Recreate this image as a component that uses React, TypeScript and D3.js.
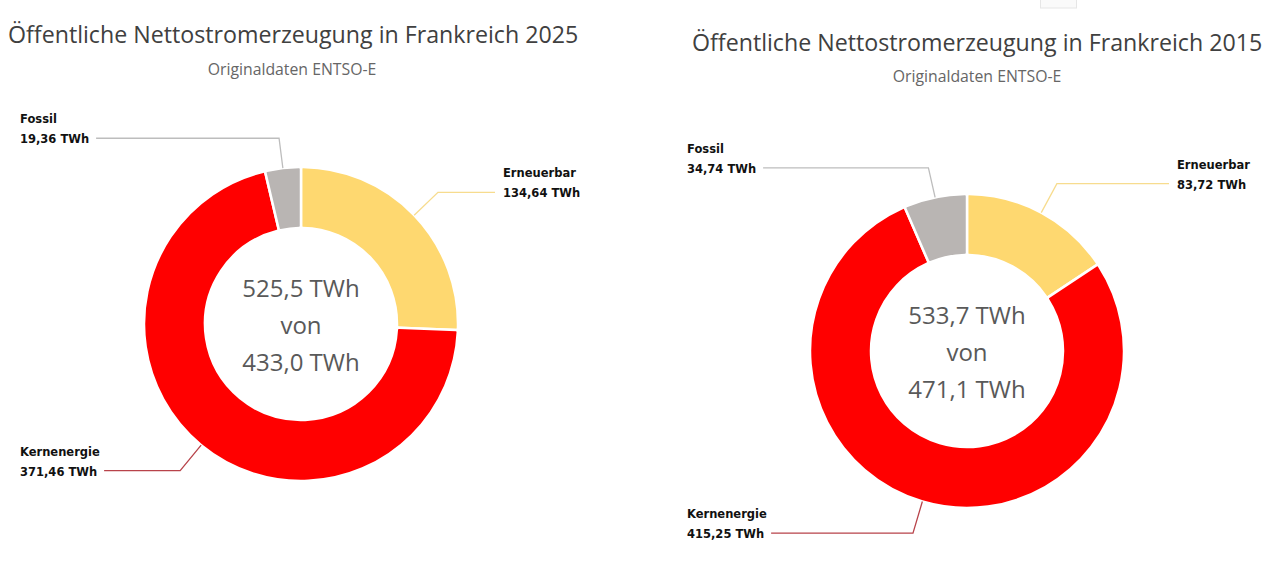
import React, { useEffect, useRef } from "react";
import * as d3 from "d3";

// Werte in TWh (Reihenfolge wie im Ring, im Uhrzeigersinn ab 12 Uhr)
const categories = ["Erneuerbar", "Kernenergie", "Fossil"];
const values2025 = [134.64, 371.46, 19.36];
const values2015 = [83.72, 415.25, 34.74];
const years = ["2025", "2015"];
const referenceTotals = [433.0, 471.1];
const sliceColors = ["#FED870", "#FF0000", "#B9B5B3"];
const leaderColors = ["#F7DC8E", "#B8434A", "#BDBDBD"];

const W = 1280,
  H = 581;

const de = d3.formatLocale({
  decimal: ",",
  thousands: ".",
  grouping: [3],
  currency: ["", " €"],
});
const fmt2 = de.format(".2f");
const fmt1 = de.format(".1f");

type Panel = {
  values: number[];
  year: string;
  ref: number;
  cx: number;
  cy: number;
  titleX: number;
  titleY: number;
  subX: number;
  subY: number;
  leftLabelX: number;
  rightLabelX: number;
};

const panels: Panel[] = [
  {
    values: values2025,
    year: years[0],
    ref: referenceTotals[0],
    cx: 301,
    cy: 324,
    titleX: 8,
    titleY: 43,
    subX: 292,
    subY: 75,
    leftLabelX: 20,
    rightLabelX: 503,
  },
  {
    values: values2015,
    year: years[1],
    ref: referenceTotals[1],
    cx: 967,
    cy: 351,
    titleX: 692,
    titleY: 51,
    subX: 977,
    subY: 82,
    leftLabelX: 687,
    rightLabelX: 1177,
  },
];

export default function App() {
  const svgRef = useRef<SVGSVGElement>(null);

  useEffect(() => {
    const svg = d3.select(svgRef.current);
    svg.selectChildren().remove();

    const outer = 157,
      inner = 96,
      elbowR = 190;

    // kleines Kästchen oben rechts
    svg
      .append("rect")
      .attr("x", 1040.5)
      .attr("y", -1)
      .attr("width", 36)
      .attr("height", 9)
      .attr("fill", "#fafafa")
      .attr("stroke", "#e6e6e6");

    const pie = d3
      .pie<number>()
      .sort(null)
      .value((d) => d);

    const arc = d3
      .arc<d3.PieArcDatum<number>>()
      .innerRadius(inner)
      .outerRadius(outer)
      .cornerRadius(2);

    panels.forEach((p) => {
      const g = svg.append("g");

      g.append("text")
        .attr("x", p.titleX)
        .attr("y", p.titleY)
        .attr("font-family", "'Open Sans', sans-serif")
        .attr("font-size", 23.2)
        .attr("fill", "#404040")
        .text(`Öffentliche Nettostromerzeugung in Frankreich ${p.year}`);

      g.append("text")
        .attr("x", p.subX)
        .attr("y", p.subY)
        .attr("text-anchor", "middle")
        .attr("font-family", "'Open Sans', sans-serif")
        .attr("font-size", 15.8)
        .attr("fill", "#666")
        .text("Originaldaten ENTSO-E");

      const arcs = pie(p.values);
      const donut = g
        .append("g")
        .attr("transform", `translate(${p.cx},${p.cy})`);

      donut
        .selectAll("path.slice")
        .data(arcs)
        .enter()
        .append("path")
        .attr("class", "slice")
        .attr("d", arc)
        .attr("fill", (d, i) => sliceColors[i])
        .attr("stroke", "#fff")
        .attr("stroke-width", 2.5);

      // Summe in der Mitte
      const total = d3.sum(p.values);
      const centerLines = [`${fmt1(total)} TWh`, "von", `${fmt1(p.ref)} TWh`];
      donut
        .selectAll("text.center")
        .data(centerLines)
        .enter()
        .append("text")
        .attr("class", "center")
        .attr("text-anchor", "middle")
        .attr("y", (d, i) => -27 + i * 37)
        .attr("font-family", "'Open Sans', sans-serif")
        .attr("font-size", 24)
        .attr("fill", "#595959")
        .text((d) => d);

      // Beschriftungen mit Führungslinien
      arcs.forEach((a, i) => {
        const mid = (a.startAngle + a.endAngle) / 2;
        const sx = p.cx + outer * Math.sin(mid),
          sy = p.cy - outer * Math.cos(mid);
        const ex = p.cx + elbowR * Math.sin(mid),
          ey = p.cy - elbowR * Math.cos(mid) + (Math.cos(mid) > 0.9 ? 3 : 0);
        const leftSide = Math.sin(mid) < 0;
        const lx = leftSide ? p.leftLabelX : p.rightLabelX;

        const lab = g
          .append("text")
          .attr("x", lx)
          .attr("font-family", "'DejaVu Sans', Tahoma, sans-serif")
          .attr("font-weight", "bold")
          .attr("font-size", 11.5)
          .attr("fill", "#111");
        lab
          .append("tspan")
          .attr("x", lx)
          .attr("y", ey - 15)
          .text(categories[i]);
        const valSpan = lab
          .append("tspan")
          .attr("x", lx)
          .attr("y", ey + 5)
          .text(`${fmt2(a.data)} TWh`);

        const tw = (valSpan.node() as SVGTSpanElement).getComputedTextLength();
        const hx = leftSide ? lx + tw + 7 : lx - 8;

        g.append("path")
          .attr("d", d3.line()([
            [sx, sy],
            [ex, ey],
            [hx, ey],
          ]))
          .attr("fill", "none")
          .attr("stroke", leaderColors[i])
          .attr("stroke-width", 1.3);
      });
    });
  }, []);

  return (
    <div style={{ position: "absolute", left: 0, top: 0, background: "#fff" }}>
      <svg ref={svgRef} width={W} height={H} xmlns="http://www.w3.org/2000/svg" />
    </div>
  );
}
